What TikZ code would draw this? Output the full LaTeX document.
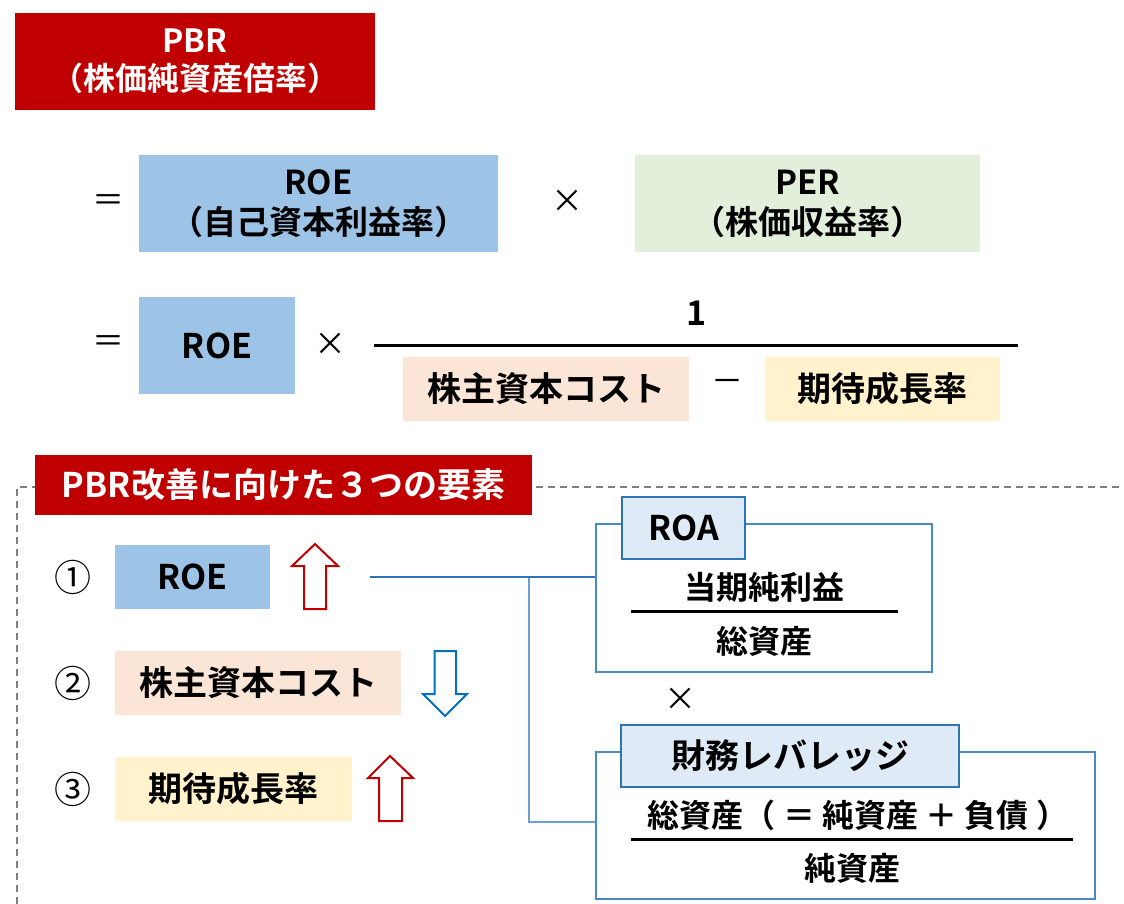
\documentclass[tikz,border=0pt]{standalone}
\usepackage{fontspec}
\setmainfont{Noto Sans CJK JP}[BoldFont={Noto Sans CJK JP Bold}]
\definecolor{dred}{HTML}{C00000}
\definecolor{roeblue}{HTML}{9DC3E6}
\definecolor{pergreen}{HTML}{E2EFDA}
\definecolor{costpink}{HTML}{FBE5D6}
\definecolor{growyel}{HTML}{FFF2CC}
\definecolor{hdrfill}{HTML}{DEEBF7}
\definecolor{hdrline}{HTML}{2E75B6}
\definecolor{outline}{HTML}{4A89C8}
\definecolor{connblue}{HTML}{2E75B6}
\definecolor{connlight}{HTML}{6A9FD2}
\definecolor{arrblue}{HTML}{0070C0}
\definecolor{dashgray}{HTML}{7F7F7F}
\newcommand{\fs}[1]{\fontsize{#1}{#1}\selectfont}
\begin{document}
\begin{tikzpicture}[x=1pt,y=-1pt,
  box/.style={rectangle, inner sep=0pt, align=center, font=\bfseries\fs{34}},
  twoline/.style={box, font=\bfseries\fontsize{33}{40}\selectfont},
  redlabel/.style={box, fill=dred, text=white},
  sym/.style={inner sep=0pt, font=\fs{32}},
  circ/.style={inner sep=0pt, font=\fs{37}},
  hdr/.style={draw=hdrline, line width=2pt, fill=hdrfill},
  outbox/.style={draw=outline, line width=2pt},
  frac/.style={line width=3pt},
  conn/.style={draw=connblue, line width=1.6pt},
  connv/.style={draw=connlight, line width=1.6pt},
  uparr/.style={draw=dred, line width=2pt, fill=white},
  downarr/.style={draw=arrblue, line width=2pt, fill=white},
  sect/.style={draw=dashgray, line width=1.5pt, dash pattern=on 7pt off 5pt}
]
\useasboundingbox[fill=white] (0,0) rectangle (1124,904);

% title
\node[redlabel, font=\bfseries\fontsize{32}{38}\selectfont, minimum width=360, minimum height=97] (pbr) at (195,61.5) {PBR\\（株価純資産倍率）};

% row 1
\node[sym] (eq1) at (108,203) {＝};
\node[twoline, fill=roeblue, minimum width=359, minimum height=97] (roe1) at (318.5,203.5) {ROE\\（自己資本利益率）};
\node[sym] (x1) at (567,201) {×};
\node[twoline, fill=pergreen, minimum width=345, minimum height=97] (per) at (807.5,203.5) {PER\\（株価収益率）};

% row 2
\node[sym] (eq2) at (108,344) {＝};
\node[box, fill=roeblue, minimum width=156, minimum height=97] (roe2) at (217,345.5) {ROE};
\node[sym] (x2) at (330,344) {×};
\node[box] (one) at (697,313) {1};
\coordinate (fl) at (374,345);
\coordinate (fr) at (1018,345);
\draw[frac] (fl) -- (fr);
\node[box, fill=costpink, minimum width=286, minimum height=64] (cost) at (546,389) {株主資本コスト};
\node[sym] (minus) at (727,386) {－};
\node[box, fill=growyel, minimum width=235, minimum height=64] (grow) at (882.5,389) {期待成長率};

% section frame
\coordinate (sc) at (17,487);
\coordinate (sb) at (17,904);
\coordinate (sr) at (1124,487);
\draw[sect] (sb) -- (sc) -- (sr);
\node[redlabel, font=\bfseries\fs{34}, minimum width=497, minimum height=60] (lab) at (283.5,485) {PBR改善に向けた３つの要素};

% three factors
\node[circ] (c1) at (73,577) {①};
\node[box, fill=roeblue, minimum width=155, minimum height=64] (r1) at (192.5,577) {ROE};
\node[circ] (c2) at (73,683) {②};
\node[box, fill=costpink, minimum width=286, minimum height=64] (r2) at (258,683) {株主資本コスト};
\node[circ] (c3) at (73,789) {③};
\node[box, fill=growyel, minimum width=237, minimum height=64] (r3) at (233.5,789) {期待成長率};

% arrows
\draw[uparr] (315,544) -- (338,566) -- (326,566) -- (326,609) -- (304,609) -- (304,566) -- (292,566) -- cycle;
\draw[downarr] (434.5,651) -- (456,651) -- (456,694) -- (467,694) -- (445,716) -- (423,694) -- (434.5,694) -- cycle;
\draw[uparr] (390,756) -- (413,778) -- (402,778) -- (402,821) -- (379,821) -- (379,778) -- (368,778) -- cycle;

% ROA block
\node[outbox, minimum width=336, minimum height=148, inner sep=0pt] (roaout) at (764,598) {};
\node[hdr, box, minimum width=123, minimum height=62] (roah) at (683.5,528) {ROA};
\node[box, font=\bfseries\fs{32}] (roan) at (764,587) {当期純利益};
\coordinate (ral) at (631,611);
\coordinate (rar) at (898,611);
\draw[frac] (ral) -- (rar);
\node[box, font=\bfseries\fs{32}] (road) at (764,641) {総資産};

\node[sym] (x3) at (680,699) {×};

% leverage block
\node[outbox, minimum width=499, minimum height=147, inner sep=0pt] (levout) at (845.5,825.5) {};
\node[hdr, box, minimum width=338, minimum height=62] (levh) at (790,756) {財務レバレッジ};
\node[box, font=\bfseries\fs{32}] (levn) at (858,815) {総資産（ ＝ 純資産 ＋ 負債 ）};
\coordinate (lvl) at (631,839);
\coordinate (lvr) at (1073,839);
\draw[frac] (lvl) -- (lvr);
\node[box, font=\bfseries\fs{32}] (levd) at (852,868) {純資産};

% connectors
\coordinate (cstart) at (370,577);
\coordinate (branch) at (529,577);
\coordinate (cbot) at (529,822);
\draw[connv] (branch) -- (cbot) -- (levout.west |- cbot);
\draw[conn] (cstart) -- (roaout.west |- cstart);
\end{tikzpicture}
\end{document}
